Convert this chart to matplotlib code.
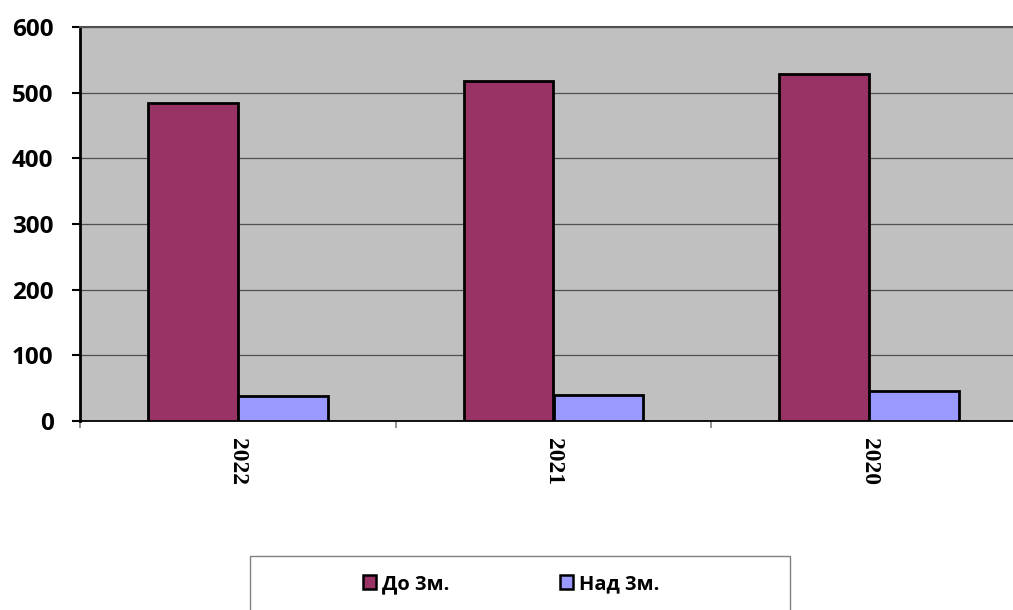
import matplotlib
matplotlib.use("Agg")
import matplotlib.pyplot as plt
from matplotlib.patches import Patch, Rectangle
import numpy as np

categories = ["2022", "2021", "2020"]
series_names = ["До 3м.", "Над 3м."]
do_3m = [484, 518, 529]
nad_3m = [38, 39, 45]
y_ticks = [0, 100, 200, 300, 400, 500, 600]

colors = ["#993366", "#9999FF"]
sans = ["Open Sans", "Noto Sans", "DejaVu Sans"]

W, H = 1013, 610
fig = plt.figure(figsize=(W / 100, H / 100), dpi=100)
ax = fig.add_axes([80 / W, 1 - 421 / H, (1027 - 80) / W, 394 / H])
ax.set_facecolor("#C0C0C0")

x = np.arange(len(categories))
bw = 0.285
ax.bar(x - bw / 2, do_3m, bw, color=colors[0], edgecolor="black", linewidth=2.0, zorder=3)
ax.bar(x + bw / 2, nad_3m, bw, color=colors[1], edgecolor="black", linewidth=2.0, zorder=3)

ax.set_xlim(-0.5, 2.5)
ax.set_ylim(0, 600)
ax.set_yticks(y_ticks)
ax.set_yticklabels([str(v) for v in y_ticks], fontfamily=sans,
                   fontweight="bold", fontsize=17.5)
ax.tick_params(axis="y", length=6, width=1.5, pad=13, color="black")
ax.yaxis.grid(True, color="#505050", linewidth=0.9, zorder=1)
ax.set_axisbelow(True)

ax.set_xticks(x)
ax.set_xticklabels(categories, rotation=-90, fontfamily="Liberation Serif",
                   fontweight="bold", fontsize=17, va="top", ha="center")
ax.tick_params(axis="x", which="major", length=0, pad=12)
ax.set_xticks([-0.5, 0.5, 1.5], minor=True)
ax.tick_params(axis="x", which="minor", length=5, width=1.2, color="#808080")

ax.spines["left"].set_linewidth(2)
ax.spines["left"].set_color("black")
ax.spines["bottom"].set_linewidth(1.3)
ax.spines["bottom"].set_color("black")
ax.spines["top"].set_linewidth(1.5)
ax.spines["top"].set_color("#505050")
ax.spines["right"].set_visible(False)

# legend frame
fig.patches.append(Rectangle((250 / W, 1 - 613 / H), 540 / W, 57 / H,
                             transform=fig.transFigure, facecolor="white",
                             edgecolor="#808080", linewidth=1.0))
handles = [Patch(facecolor=c, edgecolor="black", linewidth=1.8) for c in colors]
fig.legend(handles, series_names, loc="center", bbox_to_anchor=(511 / W, 1 - 584 / H),
           ncol=2, frameon=False, handlelength=0.65, handleheight=0.65,
           handletextpad=0.3, columnspacing=5.5,
           prop={"family": sans, "weight": "bold", "size": 14.5})

fig.savefig("out.png", dpi=100)
